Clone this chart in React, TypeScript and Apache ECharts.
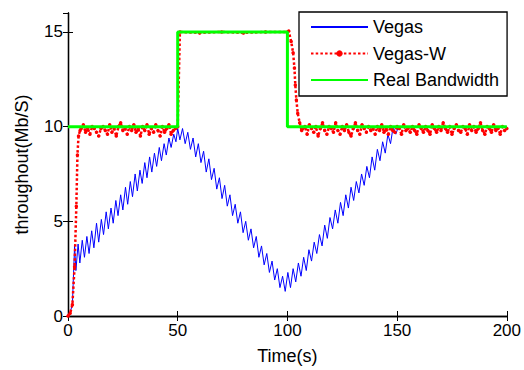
import React, { useEffect, useRef } from "react";
import * as echarts from "echarts";

const xTicks = [0, 50, 100, 150, 200];
const yTicks = [0, 5, 10, 15];
const xAxisName = "Time(s)";
const yAxisName = "throughout(Mb/S)";
const seriesNames = ["Vegas", "Vegas-W", "Real Bandwidth"];

const vegas: [number, number][] = [
  [0, 0], [1, 0.2], [2, 0.6], [3, 3.7], [3.6, 2.4], [4.6, 3.8], [5.4, 2.8], [6.5, 4.0], [7.5, 3.1],
  [8.6, 4.2], [9.6, 3.3], [10.8, 4.5], [11.8, 3.6], [13, 4.9], [14, 3.9], [15.2, 5.1], [16.2, 4.3],
  [17.4, 5.5], [18.4, 4.6], [19.6, 5.7], [20.6, 4.9], [21.8, 6.1], [22.8, 5.3], [24, 6.4], [25, 5.6],
  [26.2, 6.8], [27.2, 5.9], [28.4, 7.1], [29.4, 6.3], [30.6, 7.5], [31.6, 6.6], [32.8, 7.7], [33.8, 7.0],
  [35, 8.1], [36, 7.3], [37.2, 8.4], [38.2, 7.6], [39.4, 8.6], [40.4, 7.9], [41.6, 8.9], [42.6, 8.2],
  [43.8, 9.1], [44.8, 8.5], [46, 9.4], [47, 8.9], [48.2, 9.6], [49.2, 9.2], [50, 9.9],
  [51, 9.3], [52.2, 9.9], [53.4, 9.1], [54.6, 9.7], [55.8, 8.8], [57, 9.4], [58.2, 8.4], [59.4, 9.1],
  [60.6, 8.1], [61.8, 8.7], [63, 7.6], [64.2, 8.3], [65.4, 7.2], [66.6, 7.8], [67.8, 6.7], [69, 7.3],
  [70.2, 6.2], [71.4, 6.9], [72.6, 5.8], [73.8, 6.4], [75, 5.3], [76.2, 5.9], [77.4, 4.9], [78.6, 5.5],
  [79.8, 4.4], [81, 5.0], [82.2, 4.0], [83.4, 4.6], [84.6, 3.6], [85.8, 4.2], [87, 3.1], [88.2, 3.7],
  [89.4, 2.7], [90.6, 3.3], [91.8, 2.3], [93, 2.9], [94.2, 1.9], [95.4, 2.5], [96.6, 1.5], [97.8, 2.1],
  [99, 1.3], [100.2, 2.3], [101.4, 1.5], [102.6, 2.5], [103.8, 1.8], [105, 2.8], [106.2, 2.1],
  [107.4, 3.1], [108.6, 2.4], [109.8, 3.5], [111, 2.9], [112.2, 3.9], [113.4, 3.3], [114.6, 4.3],
  [115.8, 3.7], [117, 4.8], [118.2, 4.1], [119.4, 5.2], [120.6, 4.6], [121.8, 5.6], [123, 4.9],
  [124.2, 6.0], [125.4, 5.3], [126.6, 6.4], [127.8, 5.7], [129, 6.8], [130.2, 6.1], [131.4, 7.1],
  [132.6, 6.5], [133.8, 7.5], [135, 6.9], [136.2, 7.9], [137.4, 7.3], [138.6, 8.4], [139.8, 7.7],
  [141, 8.8], [142.2, 8.2], [143.4, 9.2], [144.6, 8.6], [145.8, 9.6], [147, 9.1], [148.2, 10.0],
  [149.4, 9.6], [150.6, 10.0], [175, 10.0], [200, 10.0],
];

const vegasW: [number, number][] = [
  [0, 0], [1, 0.15], [2, 0.6], [3, 2.6], [3.8, 5.8], [4.3, 8.5], [4.8, 9.5], [5.5, 9.8],
  [6, 9.9], [7, 10.1], [8, 9.7], [9, 9.9], [10, 9.6], [11, 10.0], [12, 9.9], [13, 9.7], [14, 9.5],
  [15, 9.9], [16, 10.0], [17, 9.8], [18, 9.6], [19, 10.1], [20, 9.7], [21, 9.9], [22, 9.5], [23, 10.0],
  [24, 10.2], [25, 9.8], [26, 9.9], [27, 9.6], [28, 10.0], [29, 9.8], [30, 10.1], [31, 9.7], [32, 9.9],
  [33, 9.5], [34, 10.0], [35, 9.8], [36, 10.1], [37, 9.6], [38, 9.9], [39, 9.7], [40, 10.1], [41, 9.8],
  [42, 9.5], [43, 10.0], [44, 9.7], [45, 9.9], [46, 10.1], [47, 9.6], [48, 9.8], [49, 9.9], [50, 10.0],
  [51, 15.0], [60, 14.95], [70, 15.0], [80, 14.95], [90, 15.0], [100, 15.0],
  [100.6, 15.05], [101.7, 14.5], [102.6, 13.9], [103.2, 13.1], [103.6, 12.2], [104.1, 11.4],
  [104.7, 10.7], [105.6, 10.2], [106.5, 9.8],
  [107, 9.9], [108, 10.0], [109, 9.6], [110, 10.1], [111, 9.9], [112, 9.7], [113, 10.0], [114, 9.5],
  [115, 9.9], [116, 10.2], [117, 9.8], [118, 9.6], [119, 10.0], [120, 9.9], [121, 9.7], [122, 10.2],
  [123, 9.8], [124, 9.6], [125, 10.0], [126, 9.8], [127, 10.1], [128, 9.7], [129, 9.5], [130, 9.9],
  [131, 10.2], [132, 9.8], [133, 9.6], [134, 10.1], [135, 9.9], [136, 9.7], [137, 10.0], [138, 9.8],
  [139, 9.9], [140, 9.6], [141, 10.0], [142, 9.8], [143, 10.1], [144, 9.7], [145, 9.9], [146, 9.6],
  [147, 10.0], [148, 9.8], [149, 9.7], [150, 10.0], [151, 9.9], [152, 9.6], [153, 10.1], [154, 9.8],
  [155, 9.9], [156, 9.7], [157, 10.0], [158, 9.8], [159, 9.6], [160, 10.1], [161, 9.9], [162, 9.7],
  [163, 10.0], [164, 9.8], [165, 9.6], [166, 10.1], [167, 9.9], [168, 9.7], [169, 10.0], [170, 9.8],
  [171, 10.2], [172, 9.9], [173, 9.7], [174, 10.0], [175, 9.6], [176, 9.9], [177, 10.1], [178, 9.8],
  [179, 9.7], [180, 10.0], [181, 9.9], [182, 9.6], [183, 10.1], [184, 9.8], [185, 10.0], [186, 9.7],
  [187, 9.9], [188, 10.2], [189, 9.8], [190, 9.6], [191, 10.0], [192, 9.9], [193, 9.7], [194, 10.1],
  [195, 9.8], [196, 9.9], [197, 9.6], [198, 10.0], [199, 9.8], [200, 9.9],
];

const realBandwidth: [number, number][] = [
  [0, 10], [50, 10], [50, 15], [100, 15], [100, 10], [200, 10],
];

const FONT = "'Liberation Sans', Arial, sans-serif";

export default function App() {
  const ref = useRef<HTMLDivElement>(null);
  useEffect(() => {
    if (!ref.current) return;
    const chart = echarts.init(ref.current, undefined, { renderer: "svg" });
    const axisLine = { show: true, lineStyle: { color: "#000", width: 1.3 } };
    const tick = { show: true, inside: true, length: 5, lineStyle: { color: "#000", width: 1 } };
    const label = { fontSize: 17, color: "#000", fontFamily: FONT };
    const nameStyle = { fontSize: 18, color: "#000", fontFamily: FONT };
    chart.setOption({
      animation: false,
      backgroundColor: "#fff",
      grid: { left: 68, right: 17, top: 13, bottom: 46, containLabel: false },
      xAxis: [
        {
          type: "value", min: xTicks[0], max: xTicks[xTicks.length - 1], interval: 50,
          position: "bottom",
          name: xAxisName, nameLocation: "middle", nameGap: 31,
          nameTextStyle: nameStyle,
          axisLine, axisTick: tick, splitLine: { show: false },
          axisLabel: { ...label, margin: 6 },
        },
        {
          type: "value", min: xTicks[0], max: xTicks[xTicks.length - 1], interval: 50,
          position: "top", axisLine, axisTick: tick, splitLine: { show: false },
          axisLabel: { show: false },
        },
      ],
      yAxis: [
        {
          type: "value", min: yTicks[0], max: 16, interval: 5,
          position: "left",
          name: yAxisName, nameLocation: "middle", nameGap: 37,
          nameTextStyle: nameStyle,
          axisLine, axisTick: tick, splitLine: { show: false },
          axisLabel: { ...label, margin: 5, showMaxLabel: false },
        },
        {
          type: "value", min: yTicks[0], max: 16, interval: 5,
          position: "right", axisLine, axisTick: tick, splitLine: { show: false },
          axisLabel: { show: false },
        },
      ],
      legend: {
        show: true,
        orient: "vertical",
        left: 299,
        top: 12,
        padding: [6, 8, 7, 11],
        itemGap: 8.5,
        itemWidth: 57,
        itemHeight: 8,
        itemTextGap: 6,
        backgroundColor: "#fff",
        borderColor: "#000",
        borderWidth: 1.3,
        borderRadius: 0,
        z: 10,
        textStyle: { fontSize: 18, color: "#000", fontFamily: FONT, lineHeight: 18 },
        data: [
          { name: seriesNames[0], itemStyle: { opacity: 0 } },
          { name: seriesNames[1] },
          { name: seriesNames[2], itemStyle: { opacity: 0 } },
        ],
      },
      series: [
        {
          name: seriesNames[0], type: "line", data: vegas, symbol: "none",
          lineStyle: { color: "#0000ff", width: 1 }, itemStyle: { color: "#0000ff" }, z: 2,
        },
        {
          name: seriesNames[1], type: "line", data: vegasW, symbol: "circle", symbolSize: 3.5,
          showSymbol: true,
          lineStyle: { color: "#ff0000", width: 2.5, type: [2.5, 2.2] },
          itemStyle: { color: "#ff0000" }, z: 3,
        },
        {
          name: seriesNames[2], type: "line", data: realBandwidth, symbol: "none",
          lineStyle: { color: "#00ff00", width: 3 }, itemStyle: { color: "#00ff00" }, z: 4,
        },
      ],
    });
    return () => chart.dispose();
  }, []);
  return (
    <div
      ref={ref}
      style={{ position: "fixed", left: 0, top: 0, width: 524, height: 370, background: "#fff" }}
    />
  );
}
